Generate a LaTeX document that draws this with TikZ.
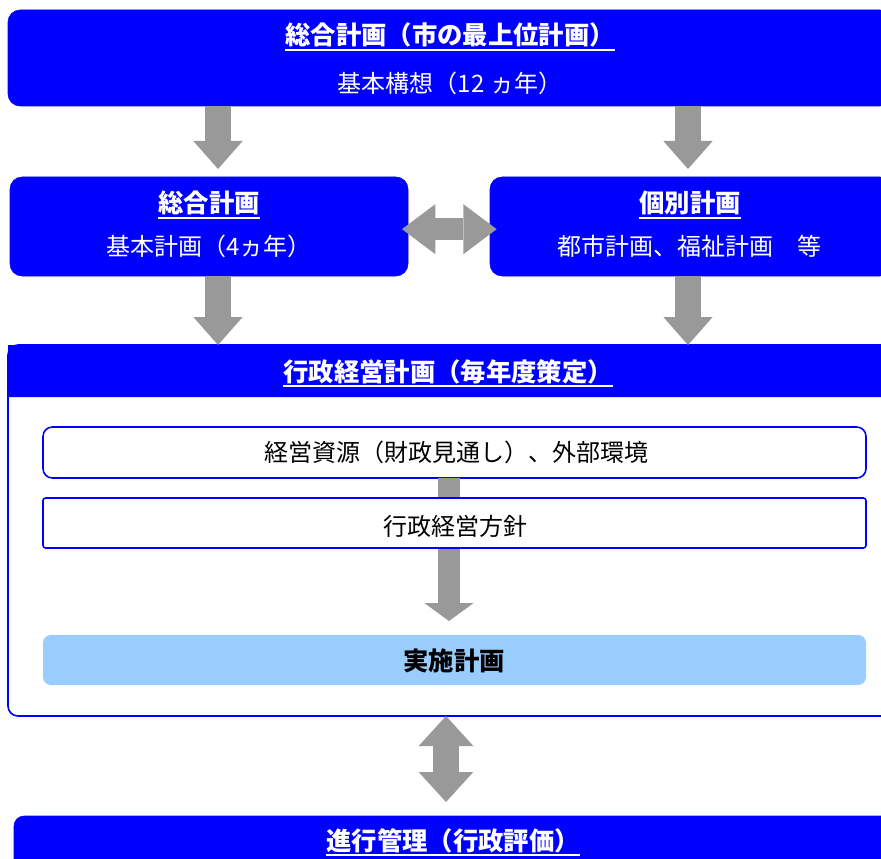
\documentclass[tikz,border=0pt]{standalone}
\usepackage{fontspec}
\setmainfont{Noto Sans CJK JP}
\usetikzlibrary{arrows.meta,fit}

\definecolor{boxblue}{RGB}{0,0,255}
\definecolor{arrowgray}{RGB}{153,153,153}
\definecolor{planblue}{RGB}{153,204,255}

\newcommand{\undl}[1]{\setbox0\hbox{#1}\rlap{\rule[-4.5pt]{\wd0}{1.5pt}}\box0}

\tikzset{
	box/.style={fill=boxblue, draw=boxblue, rounded corners=9pt, inner sep=0pt, outer sep=0pt},
	inbox/.style={fill=white, draw=boxblue, line width=1.2pt, inner sep=0pt, outer sep=0pt},
	txt/.style={text=white, anchor=base, inner sep=0pt, font=\fontsize{18}{22}\selectfont},
	ttl/.style={txt, font=\bfseries\fontsize{19}{22}\selectfont},
	fatarrow/.style={draw=arrowgray, line width=20pt, -{Triangle[length=21pt,width=37pt,line width=0pt]}},
}

\begin{document}
\begin{tikzpicture}[x=0.75pt,y=-0.75pt]
	\useasboundingbox (0,0) rectangle (881,859);
	\clip (0,0) rectangle (881,859);

	% boxes
	\node (top) [box, fit={(8,10) (892,106)}] {};
	\node (lbox) [box, fit={(10,177) (408,276)}] {};
	\node (rbox) [box, fit={(490,177) (892,276)}] {};
	\node (plan) [box, fill=white, rounded corners=7.5pt, line width=1.2pt, fit={(8,345) (892,716)}] {};
	\fill[boxblue] (892,397) -- (8,397) -- (8,345) [rounded corners=7.5pt] -- (892,345) [sharp corners] -- cycle;
	\node (mgmt) [box, rounded corners=7.5pt, fit={(14,816) (892,900)}] {};

	\node (in1) [inbox, rounded corners=7pt, fit={(43,427) (866,478)}] {};
	\node (impl) [fill=planblue, rounded corners=6pt, inner sep=0pt, outer sep=0pt, fit={(43,635) (866,685)}] {};
	\draw[fatarrow, line width=17pt, -{Triangle[length=13.5pt,width=37pt,line width=0pt]}, shorten >=10.5pt] (in1.south -| 449,0) -- (impl.north -| 449,0);
	\node (in2) [inbox, rounded corners=2pt, fit={(43,498) (866,548)}] {};

	% texts
	\node (toptitle) [ttl] at (450,45) {\undl{総合計画（市の最上位計画）}};
	\node (topsub) [txt] at (450,93) {基本構想（12 ヵ年）};
	\node (ltitle) [ttl] at (209,213) {\undl{総合計画}};
	\node (lsub) [txt] at (209,256) {基本計画（4ヵ年）};
	\node (rtitle) [ttl] at (690,213) {\undl{個別計画}};
	\node (rsub) [txt] at (689,256) {都市計画、福祉計画　等};
	\node (plantitle) [ttl] at (448,381) {\undl{行政経営計画（毎年度策定）}};
	\node (in1text) [txt, text=black] at (456,461) {経営資源（財政見通し）、外部環境};
	\node (in2text) [txt, text=black] at (455,535) {行政経営方針};
	\node (impltext) [ttl, text=black] at (454,670) {実施計画};
	\node (mgmttitle) [ttl] at (453,850) {\undl{進行管理（行政評価）}};

	% arrows
	\draw[fatarrow, shorten >=6pt] (top.south -| 218,0) -- (lbox.north -| 218,0);
	\draw[fatarrow, shorten >=6pt] (top.south -| 688,0) -- (rbox.north -| 688,0);
	\draw[fatarrow] (lbox.south -| 218,0) -- (plan.north -| 218,0);
	\draw[fatarrow] (rbox.south -| 688,0) -- (plan.north -| 688,0);
	\draw[draw=arrowgray, line width=16.5pt, {Triangle[length=25pt,width=37.5pt,line width=0pt]}-{Triangle[length=25pt,width=37.5pt,line width=0pt]}, shorten <=-4.5pt, shorten >=-5pt] ([yshift=-2pt]lbox.east) -- ([yshift=-2pt]rbox.west);
	\draw[draw=arrowgray, line width=19pt, {Triangle[length=22.5pt,width=41pt,line width=0pt]}-{Triangle[length=22.5pt,width=41pt,line width=0pt]}, shorten >=10.5pt] (plan.south -| 446,0) -- (mgmt.north -| 446,0);
\end{tikzpicture}
\end{document}
